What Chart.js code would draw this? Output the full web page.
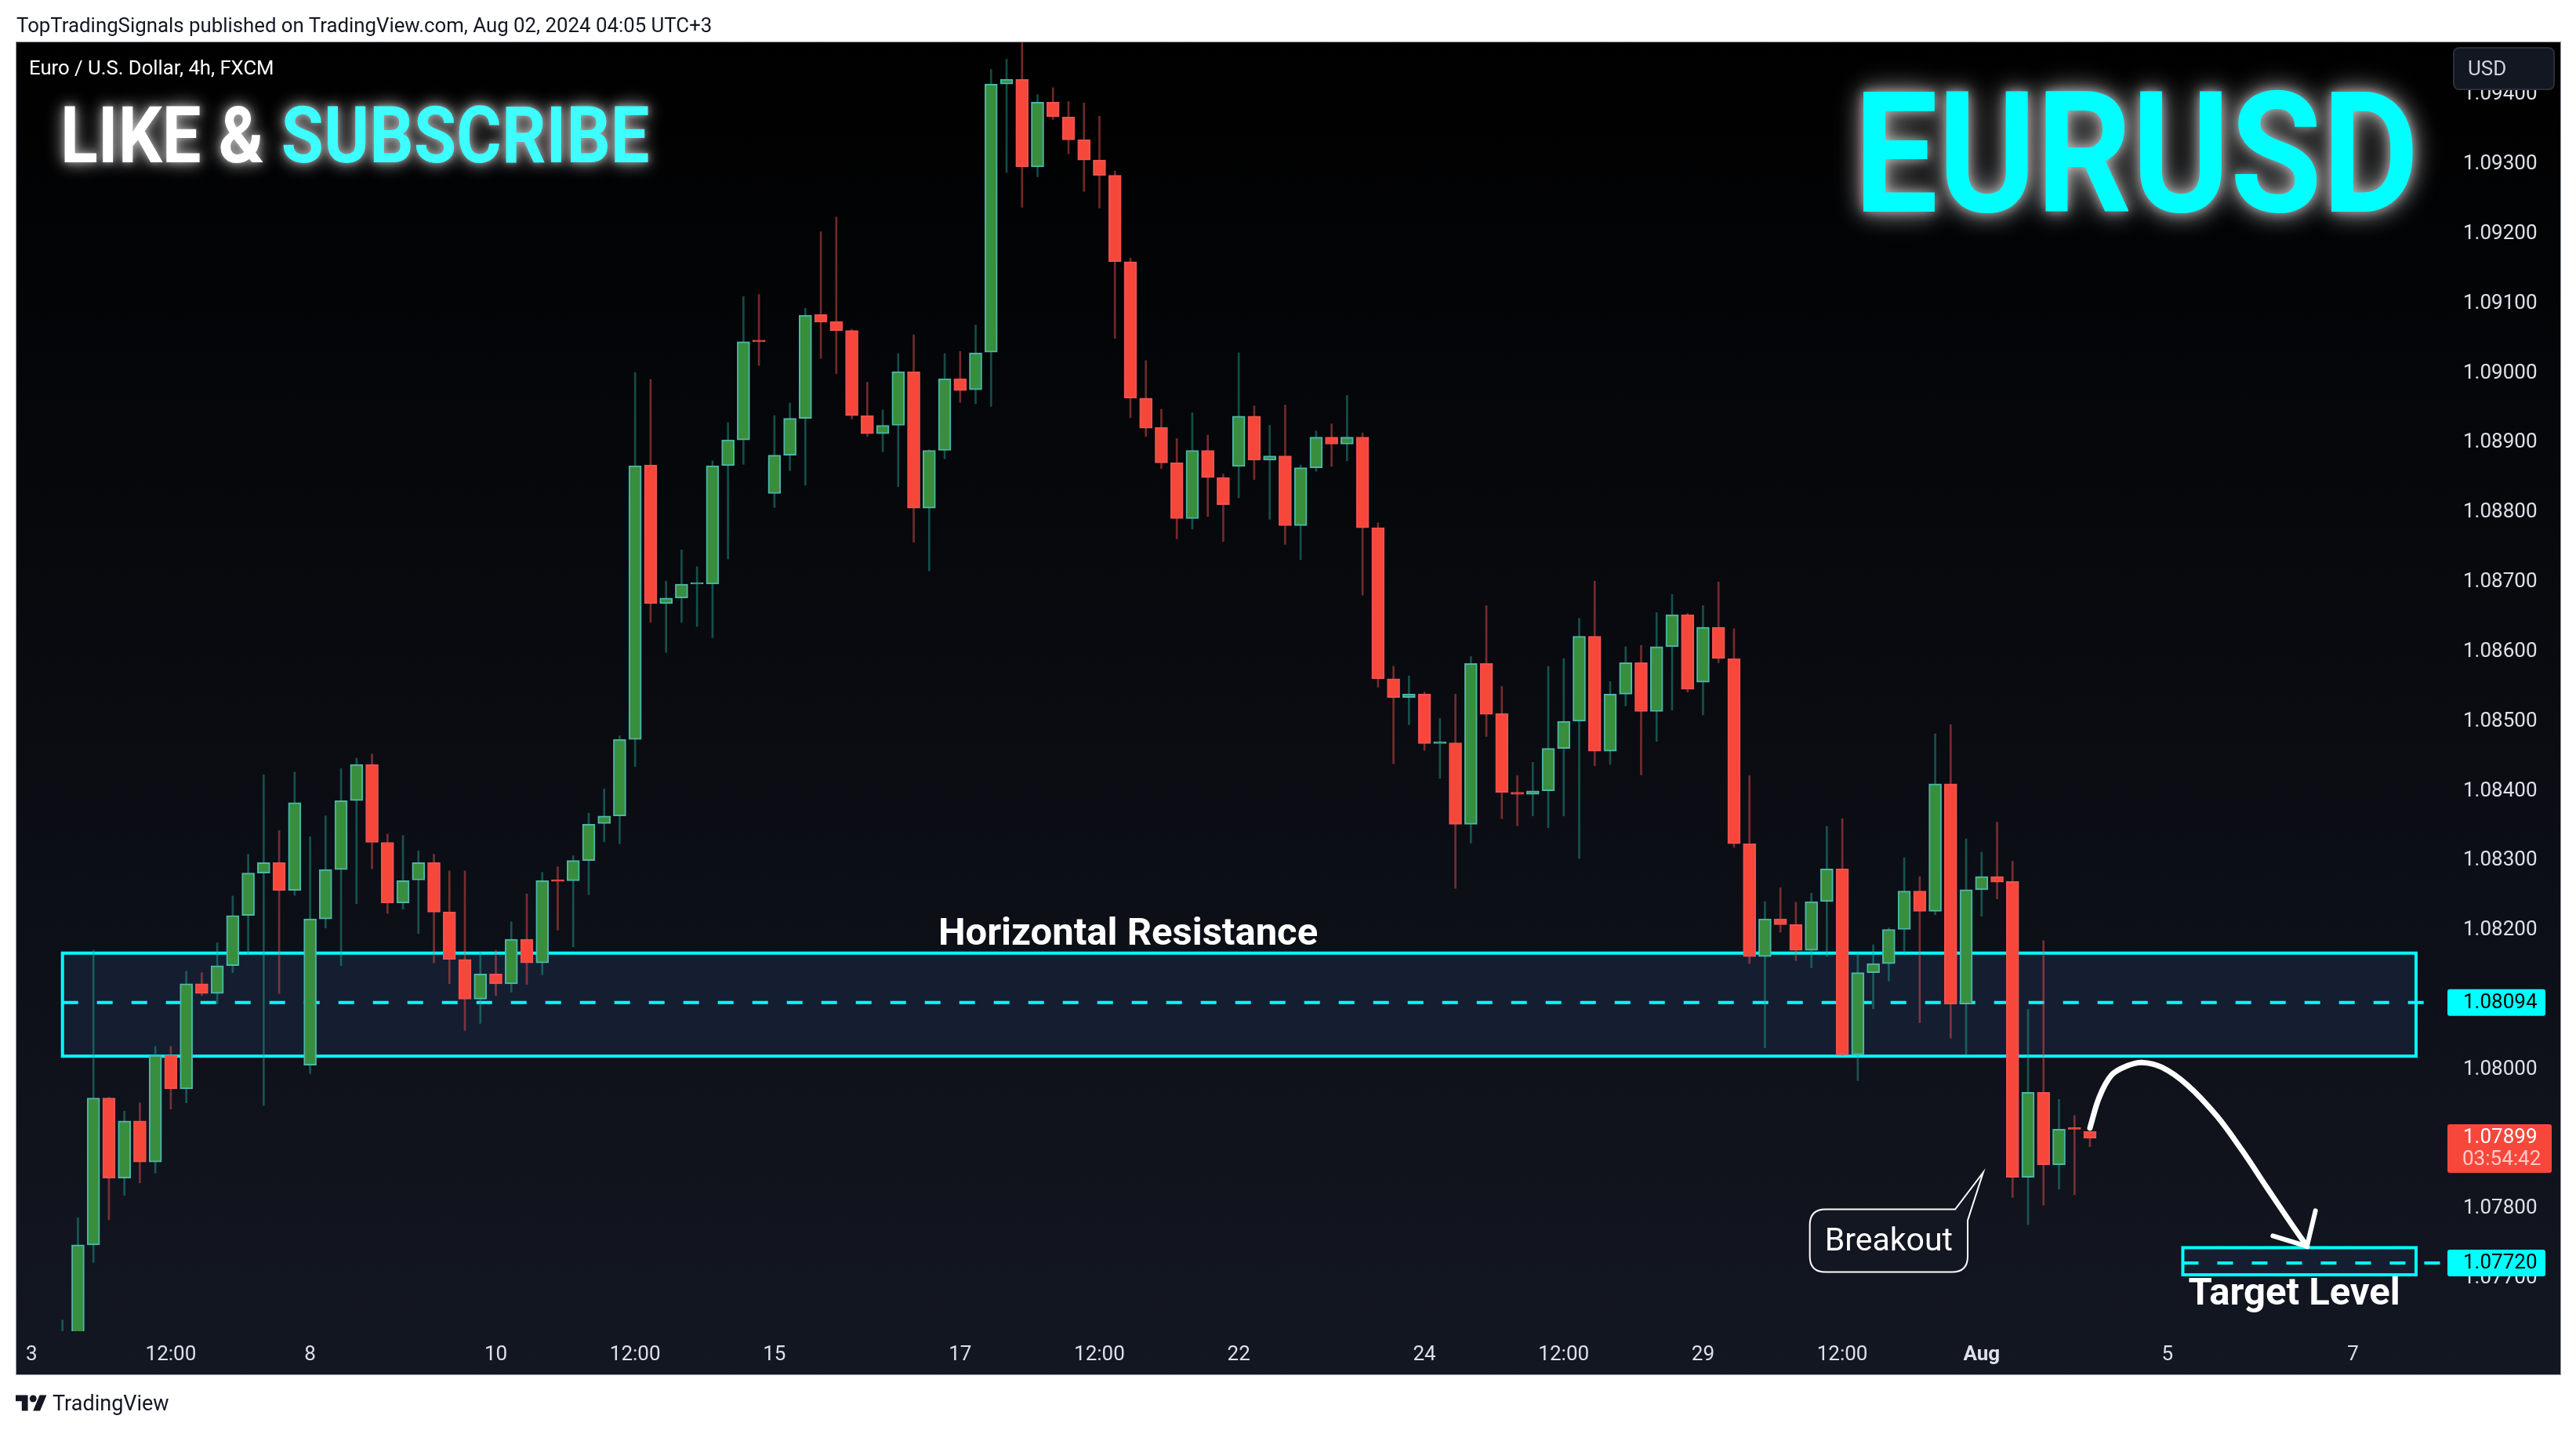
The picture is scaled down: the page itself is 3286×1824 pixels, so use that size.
<!DOCTYPE html>
<html>
<head>
<meta charset="utf-8">
<title>EURUSD</title>
<script src="https://cdn.jsdelivr.net/npm/chart.js@4"></script>
<style>
  html, body { margin: 0; padding: 0; background: #fff; }
  body { position: relative; width: 3286px; height: 1824px; overflow: hidden; font-family: Roboto, sans-serif; }
  canvas { position: absolute; left: 0; top: 0; }
  .txt { position: absolute; white-space: nowrap; }
  #publie { left: 21px; top: 17px; font-size: 25.8px; line-height: 30px; color: #131722; }
  #paire { left: 37px; top: 71px; font-size: 25.7px; line-height: 30px; color: #fff; }
  #logoTxt { left: 67px; top: 1773px; font-size: 27px; line-height: 34px; color: #131722; }
  #logo { position: absolute; left: 20px; top: 1775px; width: 40px; height: 28px; }
  #abonne { left: 77px; top: 122px; font-size: 101px; line-height: 101px; font-weight: 700; color: #fff;
    transform: scaleX(.875); transform-origin: left top;
    text-shadow: 0 0 10px rgba(255,255,255,.5), 0 0 22px rgba(255,255,255,.5), 0 0 30px rgba(255,255,255,.3); }
  #abonne span { color: #3dffff; }
  #titre { left: 2365px; top: 89px; font-size: 215px; line-height: 215px; font-weight: 700; color: #00ffff;
    transform: scaleX(.885); transform-origin: left top;
    text-shadow: 0 0 14px rgba(255,255,255,.5), 0 0 32px rgba(255,255,255,.5), 0 0 44px rgba(255,255,255,.3); }
</style>
</head>
<body>
<canvas id="graph" width="3286" height="1824"></canvas>
<div class="txt" id="publie">TopTradingSignals published on TradingView.com, Aug 02, 2024 04:05 UTC+3</div>
<div class="txt" id="paire">Euro / U.S. Dollar, 4h, FXCM</div>
<div class="txt" id="abonne">LIKE &amp; <span>SUBSCRIBE</span></div>
<div class="txt" id="titre">EURUSD</div>
<svg id="logo" viewBox="0 0 36 25"><path fill="#131722" d="M14 22H7V11H0V4h14v18zM28 22h-8l7.5-18h8L28 22z"/><circle fill="#131722" cx="20" cy="8" r="4"/></svg>
<div class="txt" id="logoTxt">TradingView</div>
<script>
// 4h candles
const open = [
  1.07590,1.07600,1.07746,1.07957,1.07842,1.07924,1.07865,1.08018,1.07970,1.08121,
  1.08107,1.08147,1.08219,1.08280,1.08295,1.08255,1.08004,1.08214,1.08285,1.08384,
  1.08436,1.08324,1.08237,1.08270,1.08295,1.08224,1.08156,1.08099,1.08135,1.08121,
  1.08185,1.08151,1.08270,1.08269,1.08298,1.08351,1.08362,1.08472,1.08866,1.08667,
  1.08675,1.08695,1.08695,1.08865,1.08902,1.09044,1.08825,1.08880,1.08933,1.09082,
  1.09072,1.09059,1.08937,1.08911,1.08923,1.09000,1.08804,1.08887,1.08990,1.08974,
  1.09028,1.09413,1.09420,1.09294,1.09387,1.09366,1.09333,1.09304,1.09282,1.09158,
  1.08962,1.08920,1.08869,1.08789,1.08887,1.08848,1.08864,1.08936,1.08873,1.08879,
  1.08779,1.08862,1.08906,1.08896,1.08906,1.08776,1.08559,1.08532,1.08537,1.08466,
  1.08467,1.08350,1.08581,1.08509,1.08396,1.08393,1.08398,1.08459,1.08498,1.08620,
  1.08455,1.08537,1.08582,1.08512,1.08605,1.08651,1.08554,1.08633,1.08588,1.08322,
  1.08160,1.08214,1.08206,1.08169,1.08239,1.08286,1.08019,1.08137,1.08150,1.08199,
  1.08254,1.08225,1.08408,1.08092,1.08256,1.08275,1.08268,1.07843,1.07965,1.07861,
  1.07913,1.07909];
const high = [
  1.07638,1.07785,1.08169,1.07958,1.07938,1.07950,1.08031,1.08031,1.08139,1.08137,
  1.08180,1.08247,1.08307,1.08421,1.08341,1.08425,1.08332,1.08362,1.08430,1.08445,
  1.08451,1.08336,1.08334,1.08312,1.08307,1.08283,1.08283,1.08167,1.08169,1.08210,
  1.08250,1.08281,1.08289,1.08305,1.08366,1.08401,1.08477,1.08999,1.08989,1.08699,
  1.08744,1.08720,1.08872,1.08927,1.09108,1.09111,1.08937,1.08955,1.09091,1.09201,
  1.09222,1.09061,1.08985,1.08945,1.09026,1.09053,1.08888,1.09026,1.09029,1.09067,
  1.09434,1.09449,1.09480,1.09398,1.09408,1.09388,1.09386,1.09367,1.09288,1.09163,
  1.09016,1.08946,1.08904,1.08941,1.08909,1.08853,1.09027,1.08951,1.08923,1.08952,
  1.08866,1.08915,1.08925,1.08966,1.08912,1.08783,1.08577,1.08563,1.08540,1.08502,
  1.08537,1.08591,1.08664,1.08548,1.08420,1.08439,1.08577,1.08588,1.08646,1.08699,
  1.08555,1.08605,1.08607,1.08654,1.08680,1.08653,1.08664,1.08698,1.08631,1.08420,
  1.08239,1.08259,1.08238,1.08251,1.08347,1.08358,1.08165,1.08177,1.08201,1.08302,
  1.08275,1.08480,1.08493,1.08329,1.08310,1.08353,1.08297,1.08084,1.08183,1.07955,
  1.07932,1.07911];
const low = [
  1.07580,1.07590,1.07721,1.07782,1.07817,1.07835,1.07849,1.07941,1.07950,1.08104,
  1.08092,1.08137,1.08164,1.07946,1.08107,1.08248,1.07992,1.08201,1.08147,1.08236,
  1.08286,1.08222,1.08228,1.08193,1.08151,1.08121,1.08054,1.08064,1.08104,1.08109,
  1.08120,1.08134,1.08198,1.08174,1.08249,1.08325,1.08322,1.08433,1.08640,1.08597,
  1.08640,1.08634,1.08618,1.08731,1.08867,1.09009,1.08805,1.08858,1.08837,1.09019,
  1.08997,1.08932,1.08907,1.08885,1.08835,1.08755,1.08714,1.08875,1.08956,1.08954,
  1.08950,1.09286,1.09236,1.09280,1.09362,1.09313,1.09259,1.09235,1.09048,1.08934,
  1.08907,1.08861,1.08760,1.08774,1.08792,1.08756,1.08819,1.08845,1.08788,1.08752,
  1.08730,1.08857,1.08864,1.08872,1.08679,1.08547,1.08437,1.08493,1.08456,1.08416,
  1.08258,1.08323,1.08476,1.08358,1.08348,1.08362,1.08345,1.08362,1.08301,1.08434,
  1.08436,1.08520,1.08421,1.08469,1.08514,1.08540,1.08507,1.08582,1.08317,1.08150,
  1.08029,1.08195,1.08154,1.08144,1.08160,1.08017,1.07982,1.08085,1.08125,1.08166,
  1.08065,1.08220,1.08043,1.08019,1.08218,1.08243,1.07814,1.07775,1.07803,1.07826,
  1.07818,1.07887];
const close = [
  1.07610,1.07746,1.07957,1.07842,1.07924,1.07865,1.08018,1.07970,1.08121,1.08107,
  1.08147,1.08219,1.08280,1.08295,1.08255,1.08381,1.08214,1.08285,1.08384,1.08436,
  1.08324,1.08237,1.08269,1.08295,1.08224,1.08156,1.08099,1.08135,1.08121,1.08185,
  1.08151,1.08269,1.08268,1.08298,1.08350,1.08362,1.08472,1.08865,1.08667,1.08675,
  1.08695,1.08696,1.08865,1.08902,1.09043,1.09043,1.08880,1.08933,1.09081,1.09071,
  1.09059,1.08937,1.08911,1.08923,1.09000,1.08804,1.08887,1.08990,1.08973,1.09027,
  1.09413,1.09420,1.09294,1.09387,1.09366,1.09333,1.09304,1.09282,1.09158,1.08962,
  1.08919,1.08869,1.08789,1.08887,1.08848,1.08809,1.08936,1.08873,1.08879,1.08779,
  1.08862,1.08906,1.08896,1.08906,1.08776,1.08559,1.08532,1.08537,1.08466,1.08468,
  1.08350,1.08581,1.08508,1.08396,1.08393,1.08398,1.08459,1.08498,1.08620,1.08455,
  1.08537,1.08582,1.08512,1.08605,1.08651,1.08544,1.08633,1.08588,1.08322,1.08160,
  1.08214,1.08206,1.08169,1.08239,1.08286,1.08019,1.08137,1.08150,1.08199,1.08254,
  1.08225,1.08408,1.08092,1.08256,1.08275,1.08267,1.07843,1.07965,1.07861,1.07912,
  1.07912,1.07899];

// axes
const timeTicks = [-2, 7, 16, 28, 37, 46, 58, 67, 76, 88, 97, 106, 115, 124, 136, 148];
const timeLabels = ["3", "12:00", "8", "10", "12:00", "15", "17", "12:00", "22", "24", "12:00", "29", "12:00", "Aug", "5", "7"];
const priceTicks = [1.077, 1.078, 1.079, 1.08, 1.081, 1.082, 1.083, 1.084, 1.085, 1.086, 1.087, 1.088, 1.089, 1.09, 1.091, 1.092, 1.093, 1.094];

// drawings on the chart
const resistanceZone = [1.08165, 1.08017];
const resistanceLevel = 1.08094;
const targetZone = [1.07742, 1.07703];
const targetLevel = 1.07720;
const lastPrice = 1.07899;
const arrowTime = [131, 131.6, 132.4, 133.39, 134.36, 135.65, 137.27, 139.2, 140.82, 142.44, 144.05, 145.02];
const arrowPrice = [1.07914, 1.07958, 1.0799, 1.08003, 1.08008, 1.08001, 1.07976, 1.07931, 1.07882, 1.07828, 1.07775, 1.07744];
const arrowHeadTime = [145.57, 145.02, 142.82];
const arrowHeadPrice = [1.07795, 1.07744, 1.07759];

const greenFill = "#388E3C", greenEdge = "#4DB6AC", greenWick = "rgba(38,166,154,0.45)";
const redFill = "#F7473B", redEdge = "#EF5350", redWick = "rgba(239,83,80,0.47)";
const cyan = "#00FFFF";
const axisText = "#DDE0E8";
const font = "Roboto";

const isUp = open.map((o, i) => close[i] >= o);
const toPoints = (xs, ys) => xs.map((x, i) => ({ x: x, y: ys[i] }));

function rect(ctx, x1, y1, x2, y2, fill, stroke, lw) {
    ctx.fillStyle = fill;
    ctx.fillRect(x1, y1, x2 - x1, y2 - y1);
    if (stroke) {
        ctx.strokeStyle = stroke;
        ctx.lineWidth = lw;
        ctx.strokeRect(x1, y1, x2 - x1, y2 - y1);
    }
}

function tag(ctx, x1, y1, x2, y2, color) {
    ctx.fillStyle = color;
    ctx.beginPath();
    ctx.roundRect(x1, y1, x2 - x1, y2 - y1, 3);
    ctx.fill();
}

// pane background, the axes sit on top of it
const fond = {
    id: "fond",
    beforeDraw(chart) {
        const ctx = chart.ctx;
        const g = ctx.createLinearGradient(0, 54, 0, 1753);
        g.addColorStop(0, "#000000");
        g.addColorStop(1, "#131722");
        ctx.save();
        ctx.fillStyle = g;
        ctx.fillRect(21, 54, 3245, 1699);
        ctx.strokeStyle = "#9598A1";
        ctx.lineWidth = 1;
        ctx.strokeRect(20.5, 53.5, 3246, 1700);
        ctx.restore();
    }
};

// boxes behind the candles
const zones = {
    id: "zones",
    beforeDatasetsDraw(chart) {
        const ctx = chart.ctx, x = chart.scales.x, y = chart.scales.y;
        ctx.save();
        rect(ctx, x.getPixelForValue(0), y.getPixelForValue(resistanceZone[0]), x.getPixelForValue(152.07), y.getPixelForValue(resistanceZone[1]), "#141E30", cyan, 4);
        rect(ctx, x.getPixelForValue(137), y.getPixelForValue(targetZone[0]), x.getPixelForValue(152.07), y.getPixelForValue(targetZone[1]), "#141E30", cyan, 4);
        ctx.restore();
    }
};

// price tags, USD button, callout and the big labels
const dessus = {
    id: "dessus",
    afterDraw(chart) {
        const ctx = chart.ctx, x = chart.scales.x, y = chart.scales.y;
        ctx.save();
        ctx.textBaseline = "middle";

        ctx.fillStyle = "#131722";
        ctx.strokeStyle = "#2A2E39";
        ctx.lineWidth = 2;
        ctx.beginPath();
        ctx.roundRect(3130, 61, 128, 53, 7);
        ctx.fill();
        ctx.stroke();
        ctx.fillStyle = "#D1D4DC";
        ctx.font = "26px " + font;
        ctx.textAlign = "left";
        ctx.fillText("USD", 3148, 89);

        ctx.font = "26px " + font;
        [resistanceLevel, targetLevel].forEach(p => {
            const py = y.getPixelForValue(p);
            tag(ctx, 3122, py - 17, 3247, py + 17, cyan);
            ctx.fillStyle = "#000";
            ctx.fillText(p.toFixed(5), 3142, py + 1);
        });
        const pl = y.getPixelForValue(lastPrice);
        tag(ctx, 3122, pl - 18, 3255, pl + 44, redFill);
        ctx.fillStyle = "#fff";
        ctx.fillText(lastPrice.toFixed(5), 3142, pl);
        ctx.fillStyle = "rgba(255,255,255,0.72)";
        ctx.fillText("03:54:42", 3141, pl + 28);

        // callout: rounded box with a spike to the breakout candle
        const bx1 = x.getPixelForValue(112.9), bx2 = x.getPixelForValue(123.1);
        const by1 = y.getPixelForValue(1.07797), by2 = y.getPixelForValue(1.07707);
        const tx = x.getPixelForValue(124.1), ty = y.getPixelForValue(1.0785);
        const r = 20;
        ctx.beginPath();
        ctx.moveTo(bx1 + r, by1);
        ctx.lineTo(bx2 - 16, by1);
        ctx.lineTo(tx, ty);
        ctx.lineTo(bx2, by1 + 14);
        ctx.lineTo(bx2, by2 - r);
        ctx.quadraticCurveTo(bx2, by2, bx2 - r, by2);
        ctx.lineTo(bx1 + r, by2);
        ctx.quadraticCurveTo(bx1, by2, bx1, by2 - r);
        ctx.lineTo(bx1, by1 + r);
        ctx.quadraticCurveTo(bx1, by1, bx1 + r, by1);
        ctx.closePath();
        ctx.fillStyle = "#131722";
        ctx.fill();
        ctx.strokeStyle = "#fff";
        ctx.lineWidth = 2;
        ctx.stroke();
        ctx.fillStyle = "#fff";
        ctx.font = "41px " + font;
        ctx.textAlign = "center";
        ctx.fillText("Breakout", (bx1 + bx2) / 2, (by1 + by2) / 2 + 2);

        ctx.font = "bold 49px " + font;
        ctx.fillText("Horizontal Resistance", x.getPixelForValue(68.85), y.getPixelForValue(1.08194) + 3);
        ctx.fillText("Target Level", x.getPixelForValue(144.2), y.getPixelForValue(1.07676) + 2);
        ctx.restore();
    }
};

Chart.defaults.font.family = font;

const graph = new Chart(document.getElementById("graph"), {
    type: "bar",
    data: {
        datasets: [
            {
                type: "line",
                data: toPoints(arrowTime, arrowPrice),
                borderColor: "#fff",
                borderWidth: 7,
                borderCapStyle: "round",
                pointRadius: 0,
                tension: 0.35,
                order: 0
            },
            {
                type: "line",
                data: toPoints(arrowHeadTime, arrowHeadPrice),
                borderColor: "#fff",
                borderWidth: 6,
                borderCapStyle: "round",
                pointRadius: 0,
                order: 0
            },
            {
                // bodies
                data: open.map((o, i) => ({ x: i, y: [o, close[i]] })),
                backgroundColor: isUp.map(u => u ? greenFill : redFill),
                borderColor: isUp.map(u => u ? greenEdge : redEdge),
                borderWidth: 2,
                borderSkipped: false,
                barThickness: 16,
                minBarLength: 2,
                grouped: false,
                order: 1
            },
            {
                // wicks
                data: low.map((l, i) => ({ x: i, y: [l, high[i]] })),
                backgroundColor: isUp.map(u => u ? greenWick : redWick),
                borderWidth: 0,
                barThickness: 2,
                grouped: false,
                order: 2
            },
            {
                type: "line",
                data: toPoints([0, 153.74], [resistanceLevel, resistanceLevel]),
                borderColor: cyan,
                borderWidth: 4,
                borderDash: [20, 24],
                pointRadius: 0,
                order: 3
            },
            {
                type: "line",
                data: toPoints([137, 153.74], [targetLevel, targetLevel]),
                borderColor: cyan,
                borderWidth: 4,
                borderDash: [20, 24],
                pointRadius: 0,
                order: 3
            }
        ]
    },
    options: {
        responsive: false,
        animation: false,
        devicePixelRatio: 1,
        events: [],
        layout: { padding: { left: 21, top: 54, right: 15, bottom: 69 } },
        plugins: {
            legend: { display: false },
            tooltip: { enabled: false }
        },
        scales: {
            x: {
                type: "linear",
                offset: false,
                min: -2.973,
                max: 154.3,
                afterBuildTicks: s => { s.ticks = timeTicks.map(v => ({ value: v })); },
                afterFit: s => { s.height = 57; },
                grid: { display: false, drawTicks: false },
                border: { display: false },
                ticks: {
                    autoSkip: false,
                    maxRotation: 0,
                    padding: 15,
                    color: axisText,
                    font: c => ({ size: 26, weight: c.tick && c.tick.value === 124 ? "bold" : "normal" }),
                    callback: v => timeLabels[timeTicks.indexOf(v)]
                }
            },
            y: {
                position: "right",
                min: 1.07622,
                max: 1.09473,
                afterBuildTicks: s => { s.ticks = priceTicks.map(v => ({ value: v })); },
                afterFit: s => { s.width = 145; },
                grid: { display: false, drawTicks: false },
                border: { display: false },
                ticks: {
                    autoSkip: false,
                    padding: 16,
                    labelOffset: 2,
                    color: axisText,
                    font: { size: 26 },
                    callback: v => v.toFixed(5)
                }
            }
        }
    },
    plugins: [fond, zones, dessus]
});
</script>
</body>
</html>
